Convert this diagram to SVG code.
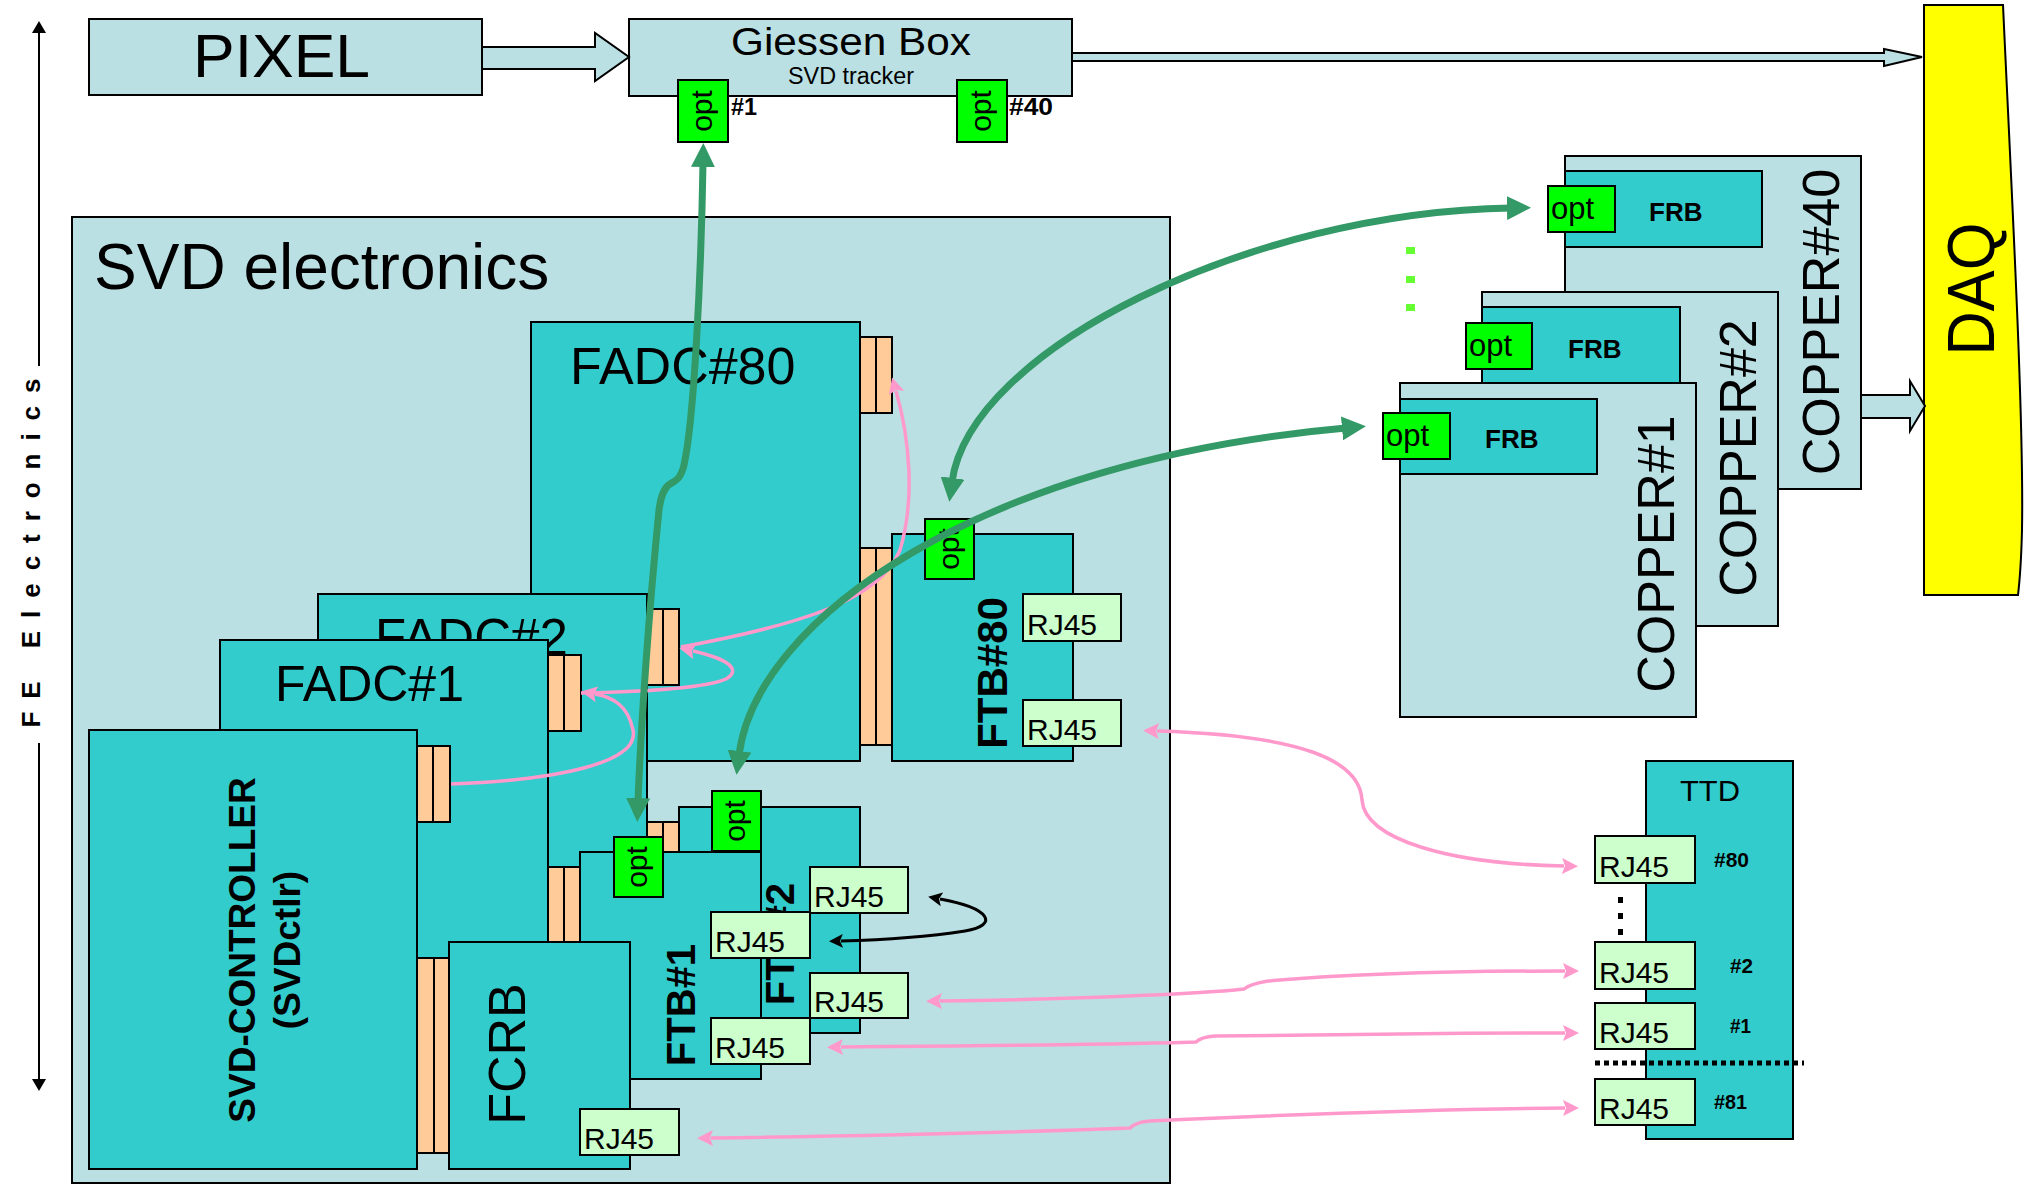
<svg xmlns="http://www.w3.org/2000/svg" width="2027" height="1185" viewBox="0 0 2027 1185">
<style>
.lb{fill:#BBE0E3;stroke:#000;stroke-width:2}
.tl{fill:#33CCCC;stroke:#000;stroke-width:2}
.op{fill:#00FF00;stroke:#000;stroke-width:2}
.pc{fill:#FFCC99;stroke:#000;stroke-width:2}
.rj{fill:#CCFFCC;stroke:#000;stroke-width:2}
.ln{stroke:#000;stroke-width:2}
text{font-family:"Liberation Sans",Arial,Helvetica,sans-serif;fill:#000}
.b{font-weight:bold}
.o{font-size:30px}
.r{font-size:30px}
.gr{fill:none;stroke:#339966;stroke-width:7}
.pk{fill:none;stroke:#FF99CC;stroke-width:3.5}
.bk{fill:none;stroke:#000;stroke-width:3}
</style>
<defs>
<marker id="ga" markerUnits="userSpaceOnUse" viewBox="0 0 24 24" markerWidth="24" markerHeight="24" refX="4" refY="12" orient="auto-start-reverse"><path d="M0,0 L24,12 L0,24 z" fill="#339966"/></marker>
<marker id="pa" markerUnits="userSpaceOnUse" viewBox="0 0 16 16" markerWidth="16" markerHeight="16" refX="2" refY="8" orient="auto-start-reverse"><path d="M0,0 L16,8 L0,16 L3,8 z" fill="#FF99CC"/></marker>
<marker id="ba" markerUnits="userSpaceOnUse" viewBox="0 0 14 14" markerWidth="14" markerHeight="14" refX="2" refY="7" orient="auto-start-reverse"><path d="M0,0 L14,7 L0,14 L3,7 z" fill="#000"/></marker>
<marker id="fa" markerUnits="userSpaceOnUse" viewBox="0 0 12 14" markerWidth="12" markerHeight="14" refX="1" refY="7" orient="auto"><path d="M0,0 L12,7 L0,14 z" fill="#000"/></marker>
</defs>

<!-- FE Electronics axis -->
<g id="fe-axis">
<line class="ln" x1="39" y1="366" x2="39" y2="32" marker-end="url(#fa)"/>
<line class="ln" x1="39" y1="743" x2="39" y2="1080" marker-end="url(#fa)"/>
<text class="b" font-size="26" text-anchor="middle" textLength="349" lengthAdjust="spacing" transform="translate(40,553) rotate(-90)">FE  Electronics</text>
</g>

<!-- PIXEL -->
<g id="pixel">
<rect class="lb" x="89" y="19" width="393" height="76"/>
<text x="193" y="77" font-size="61" textLength="177" lengthAdjust="spacingAndGlyphs">PIXEL</text>
</g>

<!-- Giessen Box -->
<g id="giessen">
<rect class="lb" x="629" y="19" width="443" height="77"/>
<text x="851" y="55" font-size="38" text-anchor="middle" textLength="240" lengthAdjust="spacingAndGlyphs">Giessen Box</text>
<text x="851" y="84" font-size="23" text-anchor="middle" textLength="126" lengthAdjust="spacingAndGlyphs">SVD tracker</text>
<rect class="op" x="678" y="80" width="50" height="62"/>
<text class="o" text-anchor="middle" transform="translate(712,111) rotate(-90)">opt</text>
<text class="b" x="731" y="115" font-size="23" textLength="26" lengthAdjust="spacingAndGlyphs">#1</text>
<rect class="op" x="957" y="80" width="50" height="62"/>
<text class="o" text-anchor="middle" transform="translate(991,111) rotate(-90)">opt</text>
<text class="b" x="1009" y="115" font-size="23" textLength="44" lengthAdjust="spacingAndGlyphs">#40</text>
</g>

<!-- DAQ -->
<g id="daq">
<path d="M1924,5 L2003,5 C2012,200 2024,420 2022,530 Q2021,570 2018,595 L1924,595 Z" fill="#FFFF00" stroke="#000" stroke-width="2"/>
<text font-size="66" text-anchor="middle" textLength="133" lengthAdjust="spacingAndGlyphs" transform="translate(1994,289) rotate(-90)">DAQ</text>
</g>

<!-- SVD electronics crate -->
<g id="svd-electronics">
<rect class="lb" x="72" y="217" width="1098" height="966"/>
<text x="94" y="289" font-size="64">SVD electronics</text>
</g>

<g id="fadc80">
<rect class="tl" x="531" y="322" width="329" height="439"/>
<text x="570" y="384" font-size="52">FADC#80</text>
<rect class="pc" x="860" y="337" width="32" height="76"/><line class="ln" x1="876" y1="337" x2="876" y2="413"/>
<rect class="pc" x="860" y="548" width="32" height="197"/><line class="ln" x1="876" y1="548" x2="876" y2="745"/>
</g>

<g id="ftb80">
<rect class="tl" x="892" y="534" width="181" height="227"/>
<rect class="op" x="925" y="519" width="49" height="60"/>
<text class="o" text-anchor="middle" transform="translate(959,549) rotate(-90)">opt</text>
<text class="b" font-size="42" text-anchor="middle" transform="translate(1007,673) rotate(-90)">FTB#80</text>
<rect class="rj" x="1023" y="594" width="98" height="47"/><text class="r" x="1027" y="635">RJ45</text>
<rect class="rj" x="1023" y="700" width="98" height="46"/><text class="r" x="1027" y="740">RJ45</text>
</g>

<g id="fadc2">
<rect class="tl" x="318" y="594" width="329" height="406"/>
<text x="375" y="655" font-size="51">FADC#2</text>
<rect class="pc" x="647" y="609" width="32" height="76"/><line class="ln" x1="663" y1="609" x2="663" y2="685"/>
</g>

<g id="fadc1">
<rect class="tl" x="220" y="640" width="328" height="510"/>
<text x="275" y="701" font-size="50">FADC#1</text>
<rect class="pc" x="548" y="655" width="33" height="76"/><line class="ln" x1="564" y1="655" x2="564" y2="731"/>
</g>

<g id="ftb2">
<rect class="pc" x="647" y="822" width="32" height="40"/><line class="ln" x1="663" y1="822" x2="663" y2="862"/>
<rect class="tl" x="679" y="807" width="181" height="226"/>
<rect class="op" x="712" y="791" width="49" height="60"/>
<text class="o" text-anchor="middle" transform="translate(745,821) rotate(-90)">opt</text>
<text class="b" font-size="40" text-anchor="middle" transform="translate(794,944) rotate(-90)">FTB#2</text>
<rect class="rj" x="810" y="867" width="98" height="46"/><text class="r" x="814" y="907">RJ45</text>
<rect class="rj" x="810" y="973" width="98" height="45"/><text class="r" x="814" y="1012">RJ45</text>
</g>

<g id="ftb1">
<rect class="pc" x="548" y="867" width="32" height="75"/><line class="ln" x1="564" y1="867" x2="564" y2="942"/>
<rect class="tl" x="580" y="852" width="181" height="227"/>
<rect class="op" x="614" y="837" width="49" height="60"/>
<text class="o" text-anchor="middle" transform="translate(647,867) rotate(-90)">opt</text>
<text class="b" font-size="40" text-anchor="middle" transform="translate(695,1005) rotate(-90)">FTB#1</text>
<rect class="rj" x="711" y="912" width="99" height="46"/><text class="r" x="715" y="952">RJ45</text>
<rect class="rj" x="711" y="1018" width="99" height="46"/><text class="r" x="715" y="1058">RJ45</text>
</g>

<g id="svd-controller">
<rect class="tl" x="89" y="730" width="328" height="439"/>
<text class="b" font-size="37" text-anchor="middle" transform="translate(255,950) rotate(-90)">SVD-CONTROLLER</text>
<text class="b" font-size="37" text-anchor="middle" transform="translate(300,950) rotate(-90)">(SVDctlr)</text>
<rect class="pc" x="417" y="746" width="33" height="76"/><line class="ln" x1="433" y1="746" x2="433" y2="822"/>
<rect class="pc" x="417" y="958" width="33" height="195"/><line class="ln" x1="434" y1="958" x2="434" y2="1153"/>
</g>

<g id="fcrb">
<rect class="tl" x="449" y="942" width="181" height="227"/>
<text font-size="52" text-anchor="middle" transform="translate(525,1054) rotate(-90)">FCRB</text>
<rect class="rj" x="580" y="1109" width="99" height="46"/><text class="r" x="584" y="1149">RJ45</text>
</g>

<!-- COPPER boards -->
<g id="copper40">
<rect class="lb" x="1565" y="156" width="296" height="333"/>
<rect class="tl" x="1565" y="171" width="197" height="76"/>
<rect class="op" x="1548" y="186" width="67" height="46"/>
<text x="1551" y="219" font-size="31">opt</text>
<text class="b" x="1649" y="221" font-size="26">FRB</text>
<text font-size="52" text-anchor="middle" transform="translate(1839,322) rotate(-90)">COPPER#40</text>
</g>
<g id="copper2">
<rect class="lb" x="1482" y="292" width="296" height="334"/>
<rect class="tl" x="1482" y="307" width="198" height="76"/>
<rect class="op" x="1466" y="323" width="66" height="46"/>
<text x="1469" y="356" font-size="31">opt</text>
<text class="b" x="1568" y="358" font-size="26">FRB</text>
<text font-size="52" text-anchor="middle" transform="translate(1756,458) rotate(-90)">COPPER#2</text>
</g>
<g id="copper1">
<rect class="lb" x="1400" y="383" width="296" height="334"/>
<rect class="tl" x="1400" y="399" width="197" height="75"/>
<rect class="op" x="1383" y="413" width="67" height="46"/>
<text x="1386" y="446" font-size="31">opt</text>
<text class="b" x="1485" y="448" font-size="26">FRB</text>
<text font-size="52" text-anchor="middle" transform="translate(1674,554) rotate(-90)">COPPER#1</text>
</g>
<g id="copper-dots" fill="#66FF33">
<rect x="1406" y="247" width="9" height="7"/>
<rect x="1406" y="276" width="9" height="7"/>
<rect x="1406" y="304" width="9" height="7"/>
</g>

<!-- TTD -->
<g id="ttd">
<rect class="tl" x="1646" y="761" width="147" height="378"/>
<text x="1680" y="801" font-size="30" textLength="60" lengthAdjust="spacingAndGlyphs">TTD</text>
<rect class="rj" x="1595" y="836" width="100" height="47"/><text class="r" x="1599" y="877">RJ45</text>
<rect class="rj" x="1595" y="942" width="100" height="47"/><text class="r" x="1599" y="983">RJ45</text>
<rect class="rj" x="1595" y="1003" width="100" height="46"/><text class="r" x="1599" y="1043">RJ45</text>
<rect class="rj" x="1595" y="1079" width="100" height="46"/><text class="r" x="1599" y="1119">RJ45</text>
<text class="b" x="1714" y="867" font-size="21" textLength="35" lengthAdjust="spacingAndGlyphs">#80</text>
<text class="b" x="1730" y="973" font-size="21" textLength="23" lengthAdjust="spacingAndGlyphs">#2</text>
<text class="b" x="1730" y="1033" font-size="21" textLength="21" lengthAdjust="spacingAndGlyphs">#1</text>
<text class="b" x="1714" y="1109" font-size="21" textLength="33" lengthAdjust="spacingAndGlyphs">#81</text>
<rect x="1618" y="897" width="5" height="6"/>
<rect x="1618" y="913" width="5" height="6"/>
<rect x="1618" y="929" width="5" height="6"/>
<line x1="1595" y1="1063" x2="1804" y2="1063" stroke="#000" stroke-width="5" stroke-dasharray="5,4"/>
</g>

<!-- connectors -->
<g id="connectors">
<!-- data-flow block arrows -->
<polygon class="lb" points="482,47 595,47 595,33 629,57 595,81 595,69 482,69"/>
<polygon class="lb" points="1072,53 1884,53 1884,49 1922,57 1884,66 1884,61 1072,61"/>
<polygon class="lb" points="1861,395 1910,395 1910,381 1925,406 1910,431 1910,418 1861,418"/>
<!-- FADC chain links -->
<path class="pk" d="M451,784 C560,780 640,762 633,730 C628,705 612,697 595,694" marker-end="url(#pa)"/>
<path class="pk" d="M581,693 C640,692 705,688 726,679 C740,671 733,660 693,651" marker-end="url(#pa)"/>
<path class="pk" d="M681,647 C800,625 880,600 900,550 C915,500 910,440 896,391" marker-end="url(#pa)"/>
<!-- RJ45 cables to TTD -->
<path class="pk" d="M1157,731 C1300,735 1360,760 1362,800 C1365,840 1450,864 1564,866" marker-start="url(#pa)" marker-end="url(#pa)"/>
<path class="pk" d="M940,1001 C1050,1000 1200,994 1244,989 Q1250,984 1268,981 C1350,974 1450,971 1565,971" marker-start="url(#pa)" marker-end="url(#pa)"/>
<path class="pk" d="M841,1047 C950,1046 1100,1045 1196,1042 Q1201,1037 1215,1036 C1350,1034 1450,1033 1565,1033" marker-start="url(#pa)" marker-end="url(#pa)"/>
<path class="pk" d="M711,1138 C850,1136 1000,1133 1130,1128 Q1136,1122 1150,1121 C1300,1114 1450,1109 1565,1108" marker-start="url(#pa)" marker-end="url(#pa)"/>
<!-- FTB to FTB link -->
<path class="bk" d="M940,899 C990,908 1000,925 965,931 C920,938 880,940 841,941" marker-start="url(#ba)" marker-end="url(#ba)"/>
<!-- optical links -->
<path class="gr" d="M703,163 C701,280 694,420 684,465 C681,478 676,481 670,484 C664,488 661,495 659,510 C650,600 641,720 638,802" marker-start="url(#ga)" marker-end="url(#ga)"/>
<path class="gr" d="M952,482 C970,350 1250,212 1511,208" marker-start="url(#ga)" marker-end="url(#ga)"/>
<path class="gr" d="M739,755 C756,620 980,460 1346,428" marker-start="url(#ga)" marker-end="url(#ga)"/>
</g>
</svg>
